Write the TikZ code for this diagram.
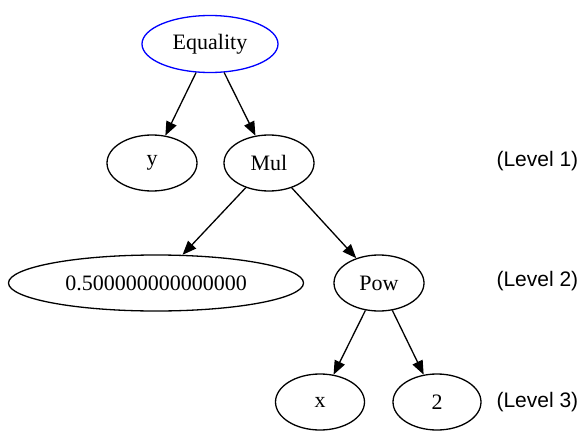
\documentclass[tikz,border=0pt]{standalone}
\usepackage{fontspec}
\setmainfont{Liberation Serif}
\newfontfamily\lvlfont{Liberation Sans}
\usetikzlibrary{shapes.geometric,arrows.meta}
\begin{document}
\begin{tikzpicture}[x=1pt,y=-1pt,
  nd/.style={ellipse,draw=black,line width=1.3pt,inner sep=0pt,font=\fontsize{22}{26}\selectfont,minimum height=56pt},
  edge/.style={line width=1.3pt,-{Triangle[length=14pt,width=11pt]}},
  lvl/.style={font=\lvlfont\fontsize{21}{25}\selectfont,anchor=west}]
\useasboundingbox (0,0) rectangle (581,431);
\node[nd,draw=blue,minimum width=136pt,minimum height=57pt] (eq) at (210,44) {Equality};
\node[nd,minimum width=90pt] (y) at (152,163) {y};
\node[nd,minimum width=90pt] (mul) at (269,163) {Mul};
\node[nd,minimum width=295pt] (half) at (156,283) {0.500000000000000};
\node[nd,minimum width=90pt] (pow) at (379,283) {Pow};
\node[nd,minimum width=89pt] (x) at (320,402) {x};
\node[nd,minimum width=88pt] (two) at (437,402) {2};
\node[lvl] (l1) at (493,161) {(Level 1)};
\node[lvl] (l2) at (493,281) {(Level 2)};
\node[lvl] (l3) at (493,402) {(Level 3)};
\draw[edge] (eq) -- (y);
\draw[edge] (eq) -- (mul);
\draw[edge] (mul) -- (half);
\draw[edge] (mul) -- (pow);
\draw[edge] (pow) -- (x);
\draw[edge] (pow) -- (two);
\end{tikzpicture}
\end{document}
